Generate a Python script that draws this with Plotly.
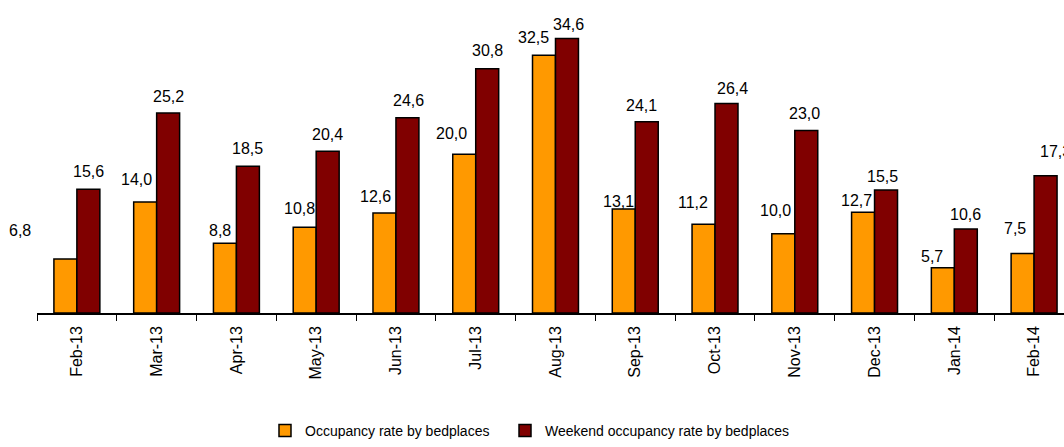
import plotly.graph_objects as go

months = ["Feb-13", "Mar-13", "Apr-13", "May-13", "Jun-13", "Jul-13", "Aug-13",
          "Sep-13", "Oct-13", "Nov-13", "Dec-13", "Jan-14", "Feb-14"]
occupancy = [6.8, 14.0, 8.8, 10.8, 12.6, 20.0, 32.5, 13.1, 11.2, 10.0, 12.7, 5.7, 7.5]
weekend = [15.6, 25.2, 18.5, 20.4, 24.6, 30.8, 34.6, 24.1, 26.4, 23.0, 15.5, 10.6, 17.3]

# label offsets (px) relative to bar top centre, as placed in the original
occ_dx = [-45, -9, -5, -5, -9, -13, -10, -5, -11, -8, -7, -11, -8]
occ_dy = [29, 22, 13, 19, 17, 21, 18, 8, 22, 23, 12, 11, 25]
wk_dx = [0, 0, 0, 0, 1, 0, 2, -5, 6, -2, -4, 0, 10]
wk_dy = [18, 17, 18, 17, 17, 18, 14, 16, 15, 17, 14, 14, 24]

FONT = "Arial, Liberation Sans, sans-serif"
ORANGE = "#FF9900"
DARKRED = "#800000"

fig = go.Figure()
fig.add_trace(go.Bar(x=months, y=occupancy, name="Occupancy rate by bedplaces",
                     legend="legend",
                     marker=dict(color=ORANGE, line=dict(color="black", width=1.5))))
fig.add_trace(go.Bar(x=months, y=weekend, name="Weekend occupancy rate by bedplaces",
                     legend="legend2",
                     marker=dict(color=DARKRED, line=dict(color="black", width=1.5))))

BAR_PX = 23
def fmt(v):
    return f"{v:.1f}".replace(".", ",")

for i, m in enumerate(months):
    fig.add_annotation(x=m, y=occupancy[i], text=fmt(occupancy[i]), showarrow=False,
                       xshift=-BAR_PX / 2 + occ_dx[i], yshift=occ_dy[i], yanchor="middle",
                       font=dict(family=FONT, size=16, color="black"))
    fig.add_annotation(x=m, y=weekend[i], text=fmt(weekend[i]), showarrow=False,
                       xshift=BAR_PX / 2 + wk_dx[i], yshift=wk_dy[i], yanchor="middle",
                       font=dict(family=FONT, size=16, color="black"))

legend_style = dict(orientation="h", xanchor="left", y=-0.391, yanchor="middle",
                    font=dict(family=FONT, size=14, color="black"),
                    bgcolor="rgba(0,0,0,0)")

fig.update_layout(
    width=1064, height=447,
    margin=dict(l=37, r=0, t=10, b=128),
    paper_bgcolor="white", plot_bgcolor="white",
    barmode="group", bargap=0.424, bargroupgap=0,
    font=dict(family=FONT, size=16, color="black"),
    showlegend=True,
    legend=dict(x=0.222, **legend_style),
    legend2=dict(x=0.4557, **legend_style),
    xaxis=dict(type="category", range=[-0.5, 12.375], showline=True, linecolor="black",
               linewidth=1.5, ticks="outside", tickson="boundaries", ticklen=6,
               tickcolor="black", tickangle=-90, showgrid=False, automargin=False,
               ticklabelstandoff=5,
               tickfont=dict(family=FONT, size=16, color="black")),
    yaxis=dict(range=[0, 38.2], visible=False, showgrid=False, zeroline=False),
)

fig.write_html("out.html",
               config={"displayModeBar": False},
               post_script="document.body.style.margin='0';"
                           "document.body.style.overflow='hidden';")
